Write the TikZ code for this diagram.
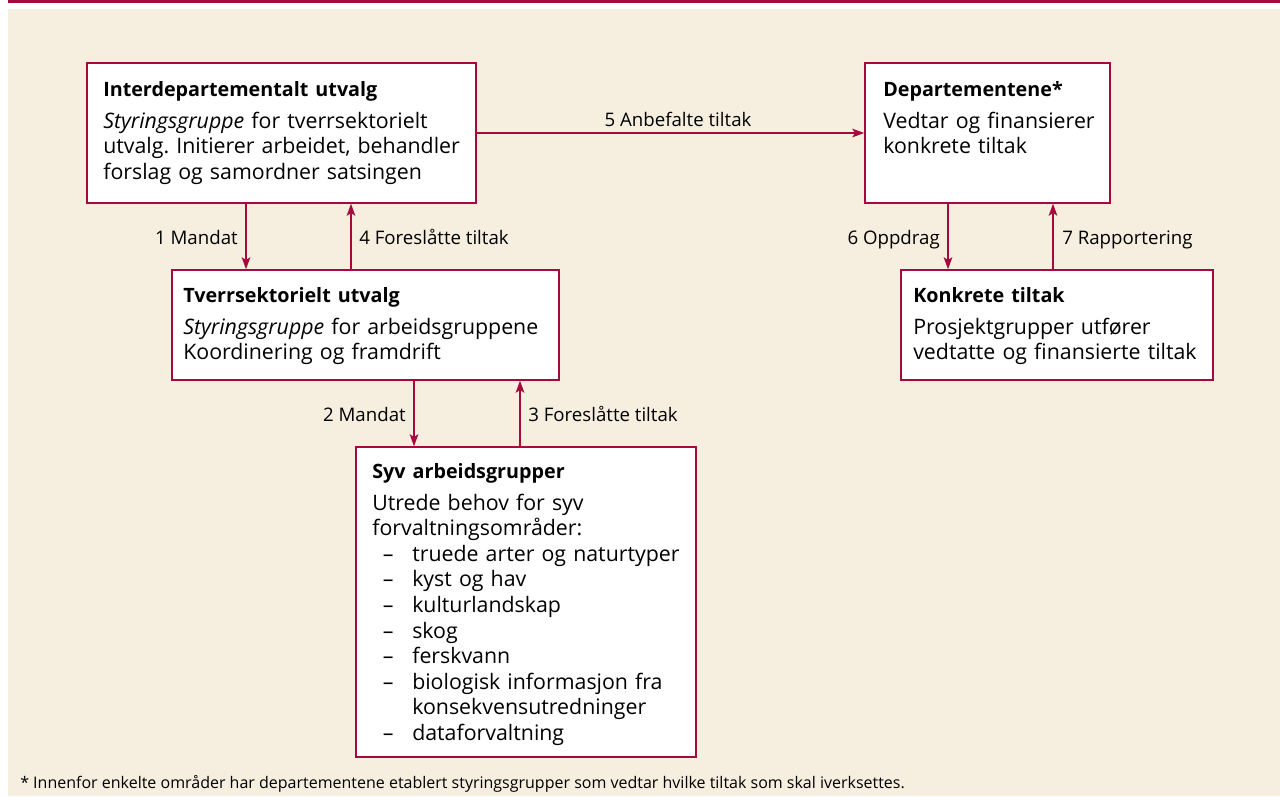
\documentclass[tikz,border=0pt]{standalone}
\usepackage{fontspec}
\setmainfont{Open Sans}
\usetikzlibrary{arrows.meta,fit}
\definecolor{frame}{RGB}{166,9,61}
\definecolor{paper}{RGB}{246,239,223}
\tikzset{
  box/.style={draw=frame, line width=1.1pt, fill=white, inner sep=0pt},
  boxtext/.style={anchor=base west, align=left, inner sep=0pt, text width=330pt,
    font=\fontsize{16}{19.2}\selectfont\frenchspacing},
  flowlabel/.style={inner sep=0pt, font=\fontsize{14}{16}\selectfont},
  flow/.style={draw=frame, line width=1.1pt, -{Stealth[length=9pt,width=6.5pt,inset=2pt]}},
}
\newcommand{\boxtitle}[1]{{\fontsize{14.8}{19.2}\selectfont\bfseries #1}}
\newcommand{\listitem}[1]{\hspace*{8pt}\makebox[22pt][l]{--}#1}

\begin{document}
\begin{tikzpicture}[x=0.75pt,y=0.75pt,yscale=-1,xscale=1]
\useasboundingbox (0,0) rectangle (1280,796);

%Background and top rule
\fill[paper] (8,9) rectangle (1280,796);
\fill[frame] (8,0) rectangle (1280,2.5);

%Shape: Rectangle
\node[box, fit={(87,63) (476,203)}] (inter) {};
\node[box, fit={(172,270) (559,380)}] (tver) {};
\node[box, fit={(356,447) (696,757)}] (syv) {};
\node[box, fit={(865,63) (1110,203)}] (dep) {};
\node[box, fit={(901,270) (1213,380)}] (konk) {};

% Text Node
\node[boxtext] (inter-t) at (103,96) {\boxtitle{Interdepartementalt utvalg}\\[4.8pt]
  \textit{Styringsgruppe} for tverrsektorielt\\utvalg. Initierer arbeidet, behandler\\forslag og samordner satsingen};
% Text Node
\node[boxtext] (tver-t) at (183,302) {\boxtitle{Tverrsektorielt utvalg}\\[4.8pt]
  \textit{Styringsgruppe} for arbeidsgruppene\\Koordinering og framdrift};
% Text Node
\node[boxtext] (syv-t) at (372,478) {\boxtitle{Syv arbeidsgrupper}\\[4.8pt]
  Utrede behov for syv\\forvaltningsområder:\\
  \listitem{truede arter og naturtyper}\\
  \listitem{kyst og hav}\\
  \listitem{kulturlandskap}\\
  \listitem{skog}\\
  \listitem{ferskvann}\\
  \listitem{biologisk informasjon fra}\\
  \hspace*{30pt}konsekvensutredninger\\
  \listitem{dataforvaltning}};
% Text Node
\node[boxtext] (dep-t) at (883,96) {\boxtitle{Departementene*}\\[4.8pt]
  Vedtar og finansierer\\konkrete tiltak};
% Text Node
\node[boxtext] (konk-t) at (913,302) {\boxtitle{Konkrete tiltak}\\[4.8pt]
  Prosjektgrupper utfører\\vedtatte og finansierte tiltak};

%Arrow columns
\coordinate (c1) at (246,0);
\coordinate (c4) at (351,0);
\coordinate (c2) at (414,0);
\coordinate (c3) at (520,0);
\coordinate (c6) at (948,0);
\coordinate (c7) at (1053,0);
\coordinate (r5) at (0,133);

%Straight Lines
\draw[flow] (inter.south -| c1) -- (tver.north -| c1);
\draw[flow] (tver.north -| c4) -- (inter.south -| c4);
\draw[flow] (tver.south -| c2) -- (syv.north -| c2);
\draw[flow] (syv.north -| c3) -- (tver.south -| c3);
\draw[flow] (inter.east |- r5) -- (dep.west |- r5);
\draw[flow] (dep.south -| c6) -- (konk.north -| c6);
\draw[flow] (konk.north -| c7) -- (dep.south -| c7);

% Text Node
\node[flowlabel, anchor=base east] (l1) at (238,244) {1 Mandat};
\node[flowlabel, anchor=base west] (l4) at (359,244) {4 Foreslåtte tiltak};
\node[flowlabel, anchor=base east] (l2) at (406,421) {2 Mandat};
\node[flowlabel, anchor=base west] (l3) at (528,421) {3 Foreslåtte tiltak};
\node[flowlabel, anchor=base] (l5) at (678,126) {5 Anbefalte tiltak};
\node[flowlabel, anchor=base east] (l6) at (940,244) {6 Oppdrag};
\node[flowlabel, anchor=base west] (l7) at (1062,244) {7 Rapportering};

% Footnote
\node[anchor=base west, inner sep=0pt, font=\fontsize{12}{14}\selectfont] (note) at (20,788)
  {* Innenfor enkelte områder har departementene etablert styringsgrupper som vedtar hvilke tiltak som skal iverksettes.};

\end{tikzpicture}
\end{document}
